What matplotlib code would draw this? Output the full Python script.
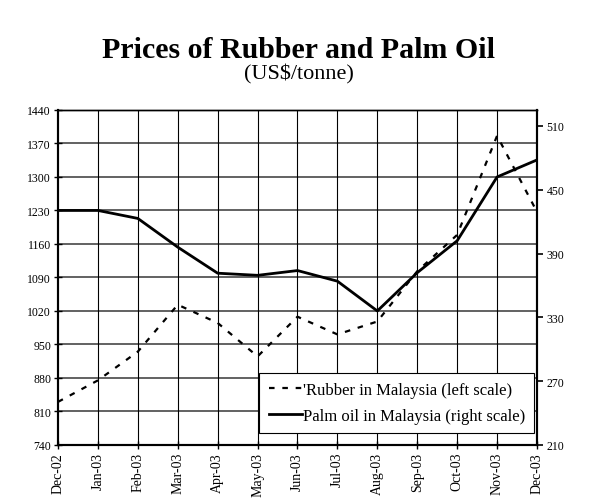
import matplotlib
matplotlib.use("Agg")
import matplotlib.pyplot as plt

plt.rcParams['font.family'] = ['Liberation Serif', 'DejaVu Serif']

months = ["Dec-02", "Jan-03", "Feb-03", "Mar-03", "Apr-03", "May-03", "Jun-03",
          "Jul-03", "Aug-03", "Sep-03", "Oct-03", "Nov-03", "Dec-03"]
rubber = [830, 875, 935, 1033, 995, 925, 1008, 971, 998, 1103, 1179, 1386, 1227]
palm_oil = [430.5, 430.5, 423, 396, 371.5, 369.5, 374, 364, 336, 372, 402, 462, 478]

left_ticks = [740, 810, 880, 950, 1020, 1090, 1160, 1230, 1300, 1370, 1440]
right_ticks = [210, 270, 330, 390, 450, 510]

fig = plt.figure(figsize=(6.01, 5.02), dpi=100)
ax = fig.add_axes([0.0965, 0.1116, 0.797, 0.6674])
ax2 = ax.twinx()

x = list(range(len(months)))

# grid first so the lines sit on top
for v in left_ticks[1:-1]:
    ax.axhline(v, color='#555555', lw=1.3, zorder=1)
for i in x[1:-1]:
    ax.axvline(i, color='black', lw=0.8, zorder=1)

l1, = ax.plot(x, rubber, color='black', lw=1.6, linestyle=(0, (2.5, 3.5)), zorder=3,
              label="'Rubber in Malaysia (left scale)")
l2, = ax2.plot(x, palm_oil, color='black', lw=2, zorder=3,
               label="Palm oil in Malaysia (right scale)")

ax.set_xlim(0, len(months) - 1)
ax.set_ylim(740, 1440)
ax2.set_ylim(210, 525)

ax.set_yticks(left_ticks)
ax.set_yticklabels([str(v) for v in left_ticks], fontsize=8.5)
ax2.set_yticks(right_ticks)
ax2.set_yticklabels([str(v) for v in right_ticks], fontsize=8.5)
ax.set_xticks(x)
ax.set_xticklabels(months, rotation=90, fontsize=10)

ax.tick_params(axis='y', direction='inout', length=6, width=1, pad=2)
ax.tick_params(axis='x', direction='inout', length=6, width=1, pad=2)
ax2.tick_params(axis='y', direction='out', length=4, width=1.2, pad=3)

for a in (ax, ax2):
    for s in a.spines.values():
        s.set_color('black')
    a.spines['left'].set_linewidth(1.5)
    a.spines['right'].set_linewidth(1.5)
    a.spines['bottom'].set_linewidth(1.5)
    a.spines['top'].set_linewidth(1)

leg = ax2.legend(handles=[l1, l2], loc='lower right', bbox_to_anchor=(0.994, 0.036),
                 borderaxespad=0, fontsize=12, frameon=True, fancybox=False,
                 framealpha=1, edgecolor='black', handlelength=2.0, handletextpad=0.05,
                 borderpad=0.55, labelspacing=0.6)
leg.get_frame().set_linewidth(0.8)
leg.set_zorder(5)

fig.text(0.497, 0.90, "Prices of Rubber and Palm Oil", ha='center', va='center',
         fontsize=21.5, fontweight='bold')
fig.text(0.497, 0.851, "(US$/tonne)", ha='center', va='center', fontsize=16)

fig.savefig("out.png", dpi=100, facecolor='white')
